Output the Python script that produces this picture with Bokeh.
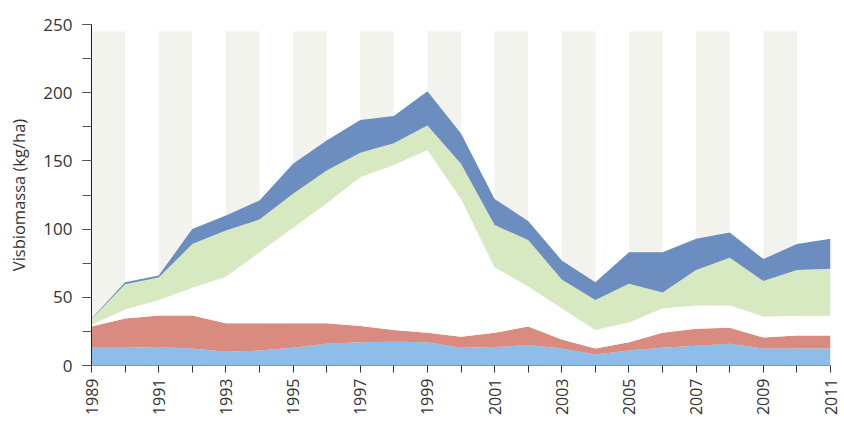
from bokeh.plotting import figure
from bokeh.models import ColumnDataSource, FixedTicker
from bokeh.embed import file_html
from bokeh.resources import INLINE

years = list(range(1989, 2012))
# stacked layers, bottom to top (kg/ha)
layer_lightblue = [13, 13, 13.5, 12.5, 10, 11, 13, 16, 17, 17.5, 17, 13, 13.5, 15, 12.5, 8, 11, 13, 14.5, 16, 12.5, 12.5, 12.5]
layer_red = [15.6, 21.5, 23.2, 24.2, 21, 20, 18, 15, 12, 8.5, 7, 8, 10.5, 13.6, 6.5, 4.5, 6, 11, 12.5, 11.6, 8, 9.5, 9.5]
layer_white = [1.4, 6.5, 11.3, 20.3, 34, 52, 70, 88, 109, 121, 134, 101, 48, 29.4, 23, 13.5, 14.5, 18, 17, 16.4, 15.5, 14.5, 14.5]
layer_green = [4, 18.5, 16.5, 32, 34, 24, 25, 24, 18, 16, 18, 26, 31, 34, 21, 22, 28.5, 11.5, 26, 35, 26, 33.5, 34.5]
layer_darkblue = [0.5, 1.5, 1.5, 11, 11, 14, 22, 22, 24, 20, 25, 22, 19, 14, 14, 13, 23, 29.5, 23, 18.5, 16, 19, 22]

layer_names = ["lightblue", "red", "white", "green", "darkblue"]
layer_colors = ["#8fbde9", "#da8b80", "#ffffff", "#d7e9c0", "#6b8dc0"]

y_ticks = [0, 50, 100, 150, 200, 250]
y_minor_ticks = [0, 25, 50, 75, 100, 125, 150, 175, 200, 225, 250]
y_label = "Visbiomassa (kg/ha)"

# background stripe columns (every other year)
stripe_left = years[0:-1:2]
stripe_right = [y + 1 for y in stripe_left]
stripe_top = [245] * len(stripe_left)

src = ColumnDataSource(dict(
    year=years,
    lightblue=layer_lightblue,
    red=layer_red,
    white=layer_white,
    green=layer_green,
    darkblue=layer_darkblue,
))

p = figure(width=844, height=426, output_backend="svg", toolbar_location=None,
           x_range=(1989, 2011), y_range=(0, 250),
           min_border_left=91, min_border_right=14, min_border_top=24, min_border_bottom=61)

p.quad(left=stripe_left, right=stripe_right, bottom=0, top=stripe_top,
       fill_color="#f3f3ed", line_color=None)

p.varea_stack(stackers=layer_names, x="year", color=layer_colors, source=src)

p.outline_line_color = None
p.xgrid.grid_line_color = None
p.ygrid.grid_line_color = None
p.background_fill_color = "white"

font = "Open Sans"

p.yaxis.ticker = FixedTicker(ticks=y_ticks, minor_ticks=y_minor_ticks)
p.yaxis.axis_label = y_label
p.yaxis.axis_label_text_font = font
p.yaxis.axis_label_text_font_size = "16.5px"
p.yaxis.axis_label_text_font_style = "normal"
p.yaxis.axis_label_text_color = "#333333"
p.yaxis.axis_label_standoff = 10
p.yaxis.major_label_text_font = font
p.yaxis.major_label_text_font_size = "17px"
p.yaxis.major_label_text_color = "#333333"
p.yaxis.major_label_standoff = 10
p.yaxis.major_tick_out = 9
p.yaxis.major_tick_in = 0
p.yaxis.minor_tick_out = 9
p.yaxis.minor_tick_in = 0
p.yaxis.axis_line_color = "#222222"
p.yaxis.major_tick_line_color = "#333333"
p.yaxis.minor_tick_line_color = "#555555"

p.xaxis.ticker = FixedTicker(ticks=years)
p.xaxis.major_label_overrides = {y: (str(y) if (y - 1989) % 2 == 0 else "") for y in years}
p.xaxis.major_label_orientation = 1.5708
p.xaxis.major_label_text_font = font
p.xaxis.major_label_text_font_size = "16px"
p.xaxis.major_label_text_color = "#333333"
p.xaxis.major_label_standoff = 6
p.xaxis.major_tick_out = 7
p.xaxis.major_tick_in = 0
p.xaxis.minor_tick_line_color = None
p.xaxis.axis_line_color = "#7f95b0"
p.xaxis.major_tick_line_color = "#333333"

open("out.html", "w").write(file_html(p, INLINE))
